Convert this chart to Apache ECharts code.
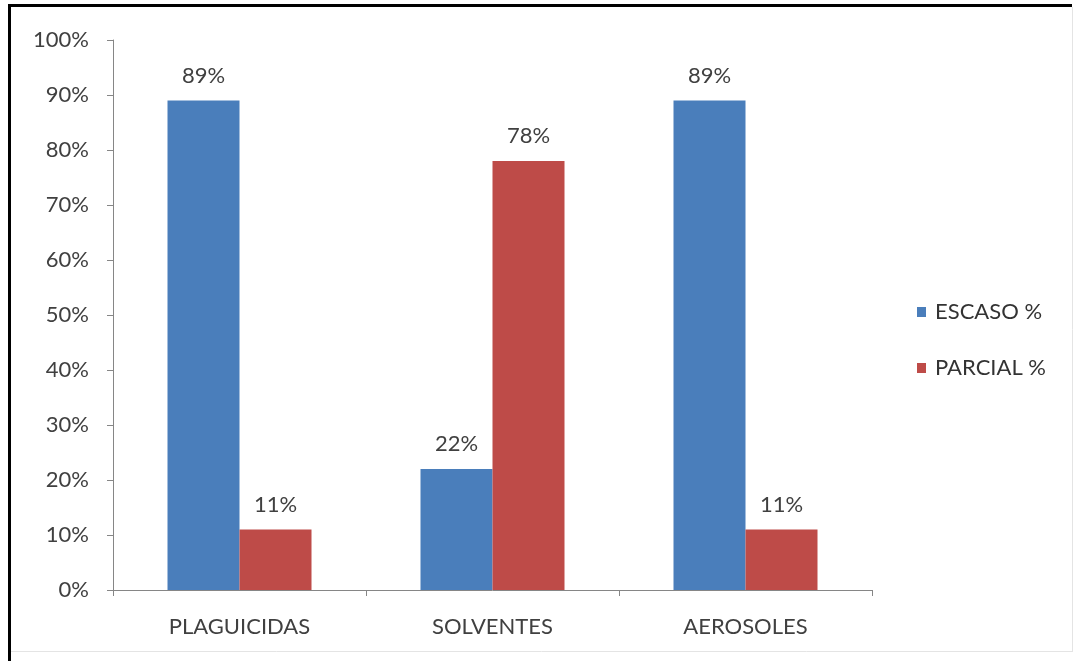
<!DOCTYPE html>
<html>
<head>
<meta charset="utf-8">
<script src="https://cdn.jsdelivr.net/npm/echarts@6/dist/echarts.min.js"></script>
<style>
  html, body { margin: 0; padding: 0; background: #ffffff; }
  #chart { width: 1076px; height: 661px; }
</style>
</head>
<body>
<div id="chart"></div>
<script>
const categories = ['PLAGUICIDAS', 'SOLVENTES', 'AEROSOLES'];
const escaso = [89, 22, 89];
const parcial = [11, 78, 11];
const seriesNames = ['ESCASO %', 'PARCIAL %'];

const FONT = 'Lato, "Open Sans", sans-serif';
const TEXT = '#404040';

const chart = echarts.init(document.getElementById('chart'));

chart.setOption({
  backgroundColor: '#ffffff',
  animation: false,
  textStyle: { fontFamily: FONT },
  grid: { left: 113, right: 204, top: 40, bottom: 71, containLabel: false },
  legend: {
    orient: 'vertical',
    left: 912,
    top: 296,
    itemWidth: 9,
    itemHeight: 10,
    itemGap: 34,
    icon: 'rect',
    textStyle: { fontSize: 22, color: '#333333', fontFamily: FONT, padding: [0, 0, 0, 4] },
    data: seriesNames
  },
  xAxis: {
    type: 'category',
    data: categories,
    axisLine: { lineStyle: { color: '#868686', width: 1 } },
    axisTick: { show: true, alignWithLabel: false, length: 6, lineStyle: { color: '#868686' } },
    axisLabel: { fontSize: 22, color: TEXT, margin: 26, fontFamily: FONT }
  },
  yAxis: {
    type: 'value',
    min: 0,
    max: 100,
    interval: 10,
    axisLine: { show: true, lineStyle: { color: '#868686', width: 1 } },
    axisTick: { show: true, length: 6, lineStyle: { color: '#868686' } },
    splitLine: { show: false },
    axisLabel: { fontSize: 22, color: TEXT, margin: 24, formatter: '{value}%', fontFamily: FONT }
  },
  series: [
    {
      name: seriesNames[0],
      type: 'bar',
      data: escaso,
      barWidth: 72,
      barGap: '0%',
      itemStyle: { color: '#4a7ebb' },
      label: { show: true, position: 'top', distance: 14, formatter: '{c}%', fontSize: 22, color: TEXT, fontFamily: FONT }
    },
    {
      name: seriesNames[1],
      type: 'bar',
      data: parcial,
      barWidth: 72,
      barGap: '0%',
      itemStyle: { color: '#be4b48' },
      label: { show: true, position: 'top', distance: 14, formatter: '{c}%', fontSize: 22, color: TEXT, fontFamily: FONT }
    }
  ],
  graphic: [
    { type: 'line', shape: { x1: 8, y1: 5.5, x2: 1072, y2: 5.5 }, style: { stroke: '#000000', lineWidth: 3 } },
    { type: 'line', shape: { x1: 9.5, y1: 4, x2: 9.5, y2: 661 }, style: { stroke: '#000000', lineWidth: 3 } },
    { type: 'line', shape: { x1: 1072.5, y1: 7, x2: 1072.5, y2: 652 }, style: { stroke: '#e4e4e4', lineWidth: 1 } },
    { type: 'line', shape: { x1: 11, y1: 651.5, x2: 1072, y2: 651.5 }, style: { stroke: '#e4e4e4', lineWidth: 1 } }
  ]
});
</script>
</body>
</html>
